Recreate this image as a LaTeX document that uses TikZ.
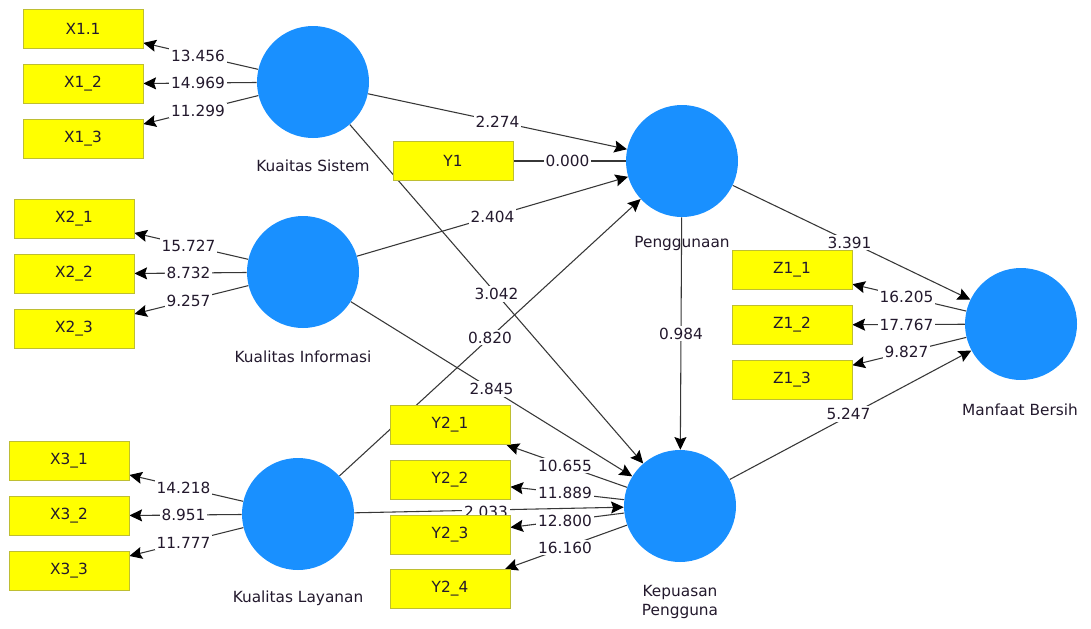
\documentclass[tikz,border=0pt]{standalone}
\usepackage{fontspec}
\setmainfont{DejaVu Sans}
\usetikzlibrary{arrows.meta,calc}
\definecolor{lvblue}{RGB}{25,144,255}
\definecolor{indyel}{RGB}{255,255,0}
\definecolor{indborder}{RGB}{190,190,50}
\definecolor{txt}{RGB}{35,25,45}
\definecolor{edgecol}{RGB}{55,55,55}
\pgfdeclarelayer{bgl}
\pgfdeclarelayer{edges}
\pgfdeclarelayer{labels}
\pgfsetlayers{bgl,edges,labels,main}
\begin{document}
\begin{tikzpicture}[x=0.75pt,y=-0.75pt,
  every node/.style={font=\fontsize{11.5}{14}\selectfont, text=txt},
  latent/.style={circle, fill=lvblue, draw=none, minimum size=84pt, inner sep=0pt},
  indicator/.style={rectangle, fill=indyel, draw=indborder, line width=0.6pt,
    minimum width=90pt, minimum height=29.25pt, inner sep=0pt},
  lvname/.style={align=center, inner sep=0pt},
  conn/.style={draw=edgecol, line width=0.8pt},
  arr/.style={conn, -{Stealth[length=9.5pt,width=9pt,inset=1.5pt,color=black]}},
  wlab/.style={fill=white, inner sep=1.5pt}
]
\useasboundingbox (0,0) rectangle (1091,628);
\begin{pgfonlayer}{bgl}
\fill[white] (0,0) rectangle (1091,628);
\end{pgfonlayer}

% latent variables
\node[latent] (KS) at (313,82) {};
\node[latent] (KI) at (303,272) {};
\node[latent] (KL) at (298,514) {};
\node[latent] (PG) at (682,161) {};
\node[latent] (KP) at (680,506) {};
\node[latent] (MB) at (1021,324) {};

\node[lvname] (KSt) at (313,166) {Kuaitas Sistem};
\node[lvname] (KIt) at (303,357) {Kualitas Informasi};
\node[lvname] (KLt) at (298,598) {Kualitas Layanan};
\node[lvname] (PGt) at (682,244) {Penggunaan};
\node[lvname] (KPt) at (680,602) {Kepuasan\\Pengguna};
\node[lvname] (MBt) at (1020,410) {Manfaat Bersih};

% indicators
\node[indicator] (X11) at (83,29) {X1.1};
\node[indicator] (X12) at (83,84) {X1\_2};
\node[indicator] (X13) at (83,139) {X1\_3};
\node[indicator] (X21) at (74,219) {X2\_1};
\node[indicator] (X22) at (74,274) {X2\_2};
\node[indicator] (X23) at (74,329) {X2\_3};
\node[indicator] (X31) at (69,461) {X3\_1};
\node[indicator] (X32) at (69,516) {X3\_2};
\node[indicator] (X33) at (69,571) {X3\_3};
\node[indicator] (Y1) at (453,161) {Y1};
\node[indicator] (Y21) at (450,425) {Y2\_1};
\node[indicator] (Y22) at (450,480) {Y2\_2};
\node[indicator] (Y23) at (450,535) {Y2\_3};
\node[indicator] (Y24) at (450,589) {Y2\_4};
\node[indicator] (Z11) at (792,270) {Z1\_1};
\node[indicator] (Z12) at (792,325) {Z1\_2};
\node[indicator] (Z13) at (792,380) {Z1\_3};

\begin{pgfonlayer}{edges}
% inner model
\draw[arr] (KS) -- (PG);
\draw[conn] (Y1) -- (PG);
\draw[arr] (KI) -- (PG);
\draw[arr] (KL) -- (PG);
\draw[arr] (KS) -- (KP);
\draw[arr] (KI) -- (KP);
\draw[arr] (KL) -- (KP);
\draw[arr] (PG) -- (KP);
\draw[arr] (PG) -- (MB);
\draw[arr] (KP) -- (MB);
% outer model
\draw[arr] (KS) -- (X11);
\draw[arr] (KS) -- (X12);
\draw[arr] (KS) -- (X13);
\draw[arr] (KI) -- (X21);
\draw[arr] (KI) -- (X22);
\draw[arr] (KI) -- (X23);
\draw[arr] (KL) -- (X31);
\draw[arr] (KL) -- (X32);
\draw[arr] (KL) -- (X33);
\draw[arr] (KP) -- (Y21);
\draw[arr] (KP) -- (Y22);
\draw[arr] (KP) -- (Y23);
\draw[arr] (KP) -- (Y24);
\draw[arr] (MB) -- (Z11);
\draw[arr] (MB) -- (Z12);
\draw[arr] (MB) -- (Z13);
\end{pgfonlayer}

\begin{pgfonlayer}{labels}
\node[wlab] (l1) at ($(KS)!0.5!(PG)$) {2.274};
\node[wlab] (l2) at ($(Y1)!0.5!(PG)$) {0.000};
\node[wlab] (l3) at ($(KI)!0.5!(PG)$) {2.404};
\node[wlab] (l4) at ($(KL)!0.5!(PG)$) {0.820};
\node[wlab] (l5) at ($(KS)!0.5!(KP)$) {3.042};
\node[wlab] (l6) at ($(KI)!0.5!(KP)$) {2.845};
\node[wlab] (l7) at ($(KL)!0.5!(KP)+(-3,2)$) {2.033};
\node[wlab] (l8) at ($(PG)!0.5!(KP)$) {0.984};
\node[wlab] (l9) at ($(PG)!0.5!(MB)+(-2,0)$) {3.391};
\node[wlab] (l10) at ($(KP)!0.5!(MB)+(-2,-1)$) {5.247};
\node[wlab] (o1) at ($(KS)!0.5!(X11)$) {13.456};
\node[wlab] (o2) at ($(KS)!0.5!(X12)$) {14.969};
\node[wlab] (o3) at ($(KS)!0.5!(X13)$) {11.299};
\node[wlab] (o4) at ($(KI)!0.5!(X21)$) {15.727};
\node[wlab] (o5) at ($(KI)!0.5!(X22)$) {8.732};
\node[wlab] (o6) at ($(KI)!0.5!(X23)$) {9.257};
\node[wlab] (o7) at ($(KL)!0.5!(X31)$) {14.218};
\node[wlab] (o8) at ($(KL)!0.5!(X32)$) {8.951};
\node[wlab] (o9) at ($(KL)!0.5!(X33)$) {11.777};
\node[wlab] (o10) at ($(KP)!0.5!(Y21)$) {10.655};
\node[wlab] (o11) at ($(KP)!0.5!(Y22)$) {11.889};
\node[wlab] (o12) at ($(KP)!0.5!(Y23)$) {12.800};
\node[wlab] (o13) at ($(KP)!0.5!(Y24)$) {16.160};
\node[wlab] (o14) at ($(MB)!0.5!(Z11)$) {16.205};
\node[wlab] (o15) at ($(MB)!0.5!(Z12)$) {17.767};
\node[wlab] (o16) at ($(MB)!0.5!(Z13)$) {9.827};
\end{pgfonlayer}
\end{tikzpicture}
\end{document}
